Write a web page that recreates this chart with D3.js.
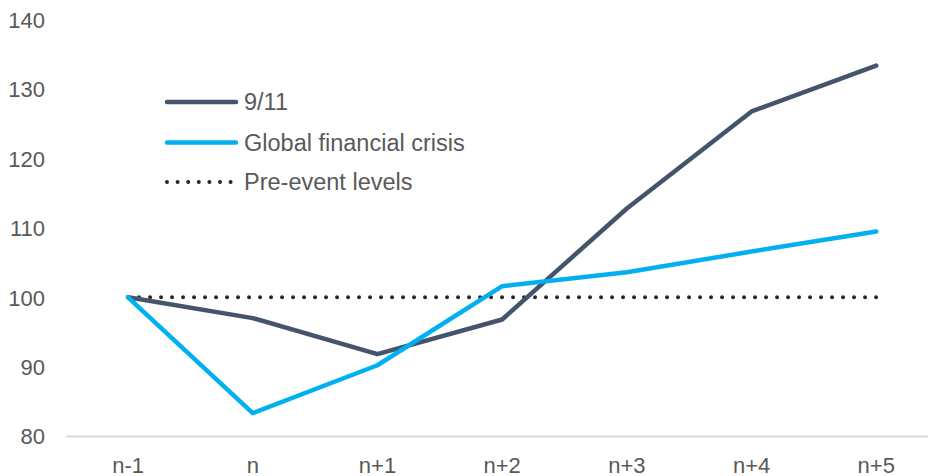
<!DOCTYPE html>
<html>
<head>
<meta charset="utf-8">
<script src="https://cdn.jsdelivr.net/npm/d3@7"></script>
<style>
  html, body { margin: 0; padding: 0; background: #ffffff; }
  svg { display: block; font-family: "Liberation Sans", Arial, sans-serif; }
</style>
</head>
<body>
<svg id="chart" width="928" height="476"></svg>
<script>
// Periods relative to the event year
const periods = ["n-1", "n", "n+1", "n+2", "n+3", "n+4", "n+5"];
// Index levels (pre-event year = 100)
const sept11 = [100, 97.0, 91.8, 96.8, 112.8, 126.8, 133.4];
const gfc = [100, 83.3, 90.2, 101.6, 103.6, 106.6, 109.5];
const preEvent = [100, 100, 100, 100, 100, 100, 100];
const yTicks = [80, 90, 100, 110, 120, 130, 140];

const seriesNames = ["9/11", "Global financial crisis", "Pre-event levels"];

const svg = d3.select("#chart");

const x = d3.scaleBand().domain(periods).range([65.7, 938.6]);
const cx = d => x(d) + x.bandwidth() / 2;
const y = d3.scaleLinear().domain([80, 140]).range([436, 19.9]);

const labelColor = "#595959";

// Category axis
const xAxis = svg.append("g")
  .attr("transform", `translate(0,${y(80)})`)
  .call(d3.axisBottom(x).tickSize(0).tickPadding(0));
xAxis.select(".domain").attr("stroke", "#d9d9d9").attr("stroke-width", 2);
xAxis.selectAll(".tick text")
  .attr("y", 37).attr("dy", 0)
  .attr("fill", labelColor)
  .attr("font-size", 22)
  .attr("font-family", "'Liberation Sans', Arial, sans-serif");

// Value axis (labels only)
const yAxis = svg.append("g")
  .attr("transform", "translate(45,0)")
  .call(d3.axisLeft(y).tickValues(yTicks).tickSize(0).tickPadding(0));
yAxis.select(".domain").remove();
yAxis.selectAll(".tick text")
  .attr("dy", "0.35em")
  .attr("fill", labelColor)
  .attr("font-size", 22)
  .attr("font-family", "'Liberation Sans', Arial, sans-serif");

const line = d3.line()
  .x((d, i) => cx(periods[i]))
  .y(d => y(d));

const styles = [
  { data: sept11, color: "#44546A", width: 4.5, dash: null },
  { data: gfc, color: "#00B0F0", width: 4.5, dash: null },
  { data: preEvent, color: "#262626", width: 4, dash: "0 11" }
];

// Draw the dotted baseline first, then the two series
const order = [2, 0, 1];
order.forEach(k => {
  const s = styles[k];
  svg.append("path")
    .datum(s.data)
    .attr("d", line)
    .attr("fill", "none")
    .attr("stroke", s.color)
    .attr("stroke-width", s.width)
    .attr("stroke-linejoin", "round")
    .attr("stroke-linecap", "round")
    .attr("stroke-dasharray", s.dash);
});

// Legend
const legend = svg.append("g");
const legendY = [102, 142.5, 182];
seriesNames.forEach((name, i) => {
  const s = styles[i];
  legend.append("line")
    .attr("x1", 167).attr("x2", 236)
    .attr("y1", legendY[i]).attr("y2", legendY[i])
    .attr("stroke", s.color)
    .attr("stroke-width", s.width)
    .attr("stroke-linecap", "round")
    .attr("stroke-dasharray", s.dash ? "0 10.6" : null);
  legend.append("text")
    .attr("x", 244).attr("y", legendY[i])
    .attr("dy", "0.35em")
    .attr("fill", labelColor)
    .attr("font-size", 23.5)
    .text(name);
});
</script>
</body>
</html>
